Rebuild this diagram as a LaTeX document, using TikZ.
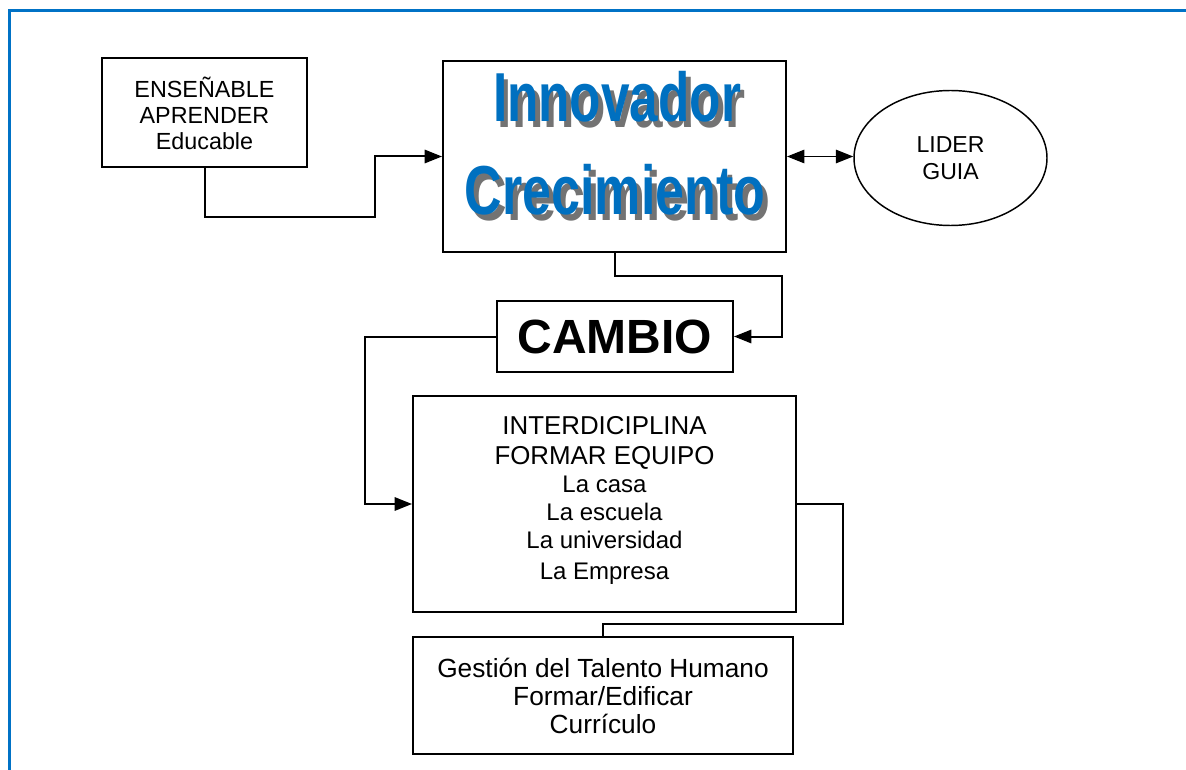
\documentclass[tikz,border=0pt]{standalone}
\usepackage{fontspec}
\setmainfont{Liberation Sans}
\usetikzlibrary{arrows.meta,shapes.geometric}

\definecolor{artblue}{RGB}{0,112,192}
\definecolor{artgray}{RGB}{115,115,115}
\definecolor{frameblue}{RGB}{0,114,198}

% word with a grey drop shadow, squeezed sideways
\newcommand{\artword}[2]{%
  \scalebox{#1}[1]{\makebox[0pt][l]{\hspace{5pt}\raisebox{-4.5pt}{\textcolor{artgray}{#2}}}\textcolor{artblue}{#2}}}

\begin{document}
\begin{tikzpicture}[x=0.75pt,y=-0.75pt,
  box/.style={draw, line width=1.5pt, align=center, inner sep=0pt},
  line/.style={line width=1.5pt},
  arr/.style={line width=1.5pt, -{Triangle[length=13pt,width=10pt]}},
  dbl/.style={line width=1.2pt, {Triangle[length=13pt,width=10pt]}-{Triangle[length=13pt,width=10pt]}},
  art/.style={font=\fontsize{52}{52}\selectfont\bfseries, inner sep=0pt},
  frame/.style={draw=frameblue, line width=2.25pt}]

  \useasboundingbox (0,0) rectangle (1186,770);

  % -------------------------
  % marco
  % -------------------------
  \draw[frame] (9,770) -- (9,11) -- (1186,11);

  % -------------------------
  % cajas
  % -------------------------
  \node[box, minimum width=153.75pt, minimum height=81.75pt,
        font=\fontsize{17.5}{19.5}\selectfont] (ensena) at (204.5,113)
        {ENSEÑABLE\\APRENDER\\Educable};

  \node[box, minimum width=257.25pt, minimum height=143.25pt] (innov) at (614.5,156.5) {};
  \node[art, anchor=base] (innovTxt) at (617,122) {\artword{0.74}{Innovador}};
  \node[art, anchor=base] (crecTxt) at (615,215) {\artword{0.75}{Crecimiento}};

  \node[draw, ellipse, line width=1.1pt, minimum width=144.75pt, minimum height=101.25pt,
        align=center, font=\fontsize{17.3}{20}\selectfont] (lider) at (950.5,158)
        {LIDER\\GUIA};

  \node[box, minimum width=177pt, minimum height=53.25pt,
        font=\fontsize{36}{40}\selectfont\bfseries] (cambio) at (615,336.5) {CAMBIO};

  \node[box, minimum width=287.25pt, minimum height=162pt,
        font=\fontsize{19.4}{21}\selectfont] (inter) at (604.5,504)
        {INTERDICIPLINA\\[1.5pt]FORMAR EQUIPO\\
         {\fontsize{18}{21}\selectfont La casa}\\
         {\fontsize{18}{21}\selectfont La escuela}\\
         {\fontsize{18}{21}\selectfont La universidad}\\[2.3pt]
         {\fontsize{18}{21}\selectfont La Empresa}\\[-12pt]};

  \node[box, minimum width=285pt, minimum height=87.75pt,
        font=\fontsize{19.7}{21}\selectfont] (gestion) at (603,695.5)
        {Gestión del Talento Humano\\Formar/Edificar\\Currículo};

  % -------------------------
  % conectores
  % -------------------------
  \coordinate (k1) at (375,217);
  \coordinate (k2) at (782,276);
  \coordinate (k3) at (365,504);
  \coordinate (k4) at (843,624);

  \draw[arr] (ensena.south) |- (k1) |- (innov.west);
  \draw[dbl] (innov.east) -- (innov.east -| lider.west);
  \draw[arr] (innov.south) |- (k2) |- (cambio.east);
  \draw[arr] (cambio.west) -| (k3) -- (inter.west);
  \draw[line] (inter.east) -| (k4) -| (gestion.north);

\end{tikzpicture}
\end{document}
